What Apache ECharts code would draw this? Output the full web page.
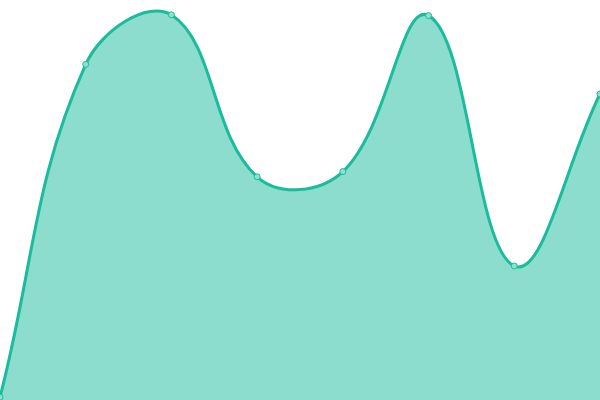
<!DOCTYPE html>
<html>
<head>
<meta charset="utf-8">
<script src="https://cdn.jsdelivr.net/npm/echarts@6/dist/echarts.min.js"></script>
<style>html,body{margin:0;padding:0;background:#fff}#c{width:600px;height:400px}</style>
</head>
<body>
<div id="c"></div>
<script>
var categories = ['1', '2', '3', '4', '5', '6', '7', '8'];
var values = [0.7, 83.9, 96.3, 55.8, 57.1, 96.1, 33.5, 76.5];

var TENSION = 0.4;

var SplineShape = echarts.graphic.extendShape({
  shape: { pts: [], cps: [], base: 0, close: false },
  buildPath: function (ctx, shape) {
    var p = shape.pts, c = shape.cps;
    if (!p.length) return;
    ctx.moveTo(p[0][0], p[0][1]);
    for (var i = 1; i < p.length; i++) {
      ctx.bezierCurveTo(c[i - 1].next[0], c[i - 1].next[1], c[i].prev[0], c[i].prev[1], p[i][0], p[i][1]);
    }
    if (shape.close) {
      ctx.lineTo(p[p.length - 1][0], shape.base);
      ctx.lineTo(p[0][0], shape.base);
      ctx.closePath();
    }
  }
});
echarts.graphic.registerShape('splineShape', SplineShape);

function dist(a, b) { var dx = a[0] - b[0], dy = a[1] - b[1]; return Math.sqrt(dx * dx + dy * dy); }

function controlPoints(pts, area) {
  var out = [];
  for (var i = 0; i < pts.length; i++) {
    var cur = pts[i];
    var prev = i > 0 ? pts[i - 1] : cur;
    var next = i < pts.length - 1 ? pts[i + 1] : cur;
    var d01 = dist(cur, prev), d12 = dist(next, cur);
    var s01 = d01 / (d01 + d12), s12 = d12 / (d01 + d12);
    if (isNaN(s01)) s01 = 0;
    if (isNaN(s12)) s12 = 0;
    var fa = TENSION * s01, fb = TENSION * s12;
    var vx = next[0] - prev[0], vy = next[1] - prev[1];
    var cp = {
      prev: [cur[0] - fa * vx, cur[1] - fa * vy],
      next: [cur[0] + fb * vx, cur[1] + fb * vy]
    };
    ['prev', 'next'].forEach(function (k) {
      cp[k][0] = Math.min(Math.max(cp[k][0], area.x), area.x + area.width);
      cp[k][1] = Math.min(Math.max(cp[k][1], area.y), area.y + area.height);
    });
    out.push(cp);
  }
  return out;
}

var chart = echarts.init(document.getElementById('c'));
chart.setOption({
  animation: false,
  grid: { left: 0, right: 0, top: 0, bottom: 0 },
  xAxis: { type: 'category', data: categories, boundaryGap: false, show: false },
  yAxis: { type: 'value', min: 0, max: 100, show: false },
  series: [{
    type: 'custom',
    data: values,
    silent: true,
    z: 2,
    renderItem: function (params, api) {
      if (params.dataIndex !== 0) return;
      var pts = values.map(function (v, i) { return api.coord([i, v]); });
      var area = params.coordSys;
      var cps = controlPoints(pts, area);
      var base = api.coord([0, 0])[1];
      return {
        type: 'group',
        children: [{
          type: 'splineShape',
          shape: { pts: pts, cps: cps, base: base, close: true },
          style: { fill: 'rgba(26,188,156,0.5)', stroke: null }
        }, {
          type: 'splineShape',
          shape: { pts: pts, cps: cps, base: base, close: false },
          style: { fill: null, stroke: '#1abc9c', lineWidth: 3 }
        }]
      };
    }
  }, {
    type: 'scatter',
    data: values,
    z: 3,
    symbol: 'circle',
    symbolSize: 6,
    itemStyle: { color: '#8ee0d0', borderColor: '#1abc9c', borderWidth: 1, opacity: 1 }
  }]
});
</script>
</body>
</html>
